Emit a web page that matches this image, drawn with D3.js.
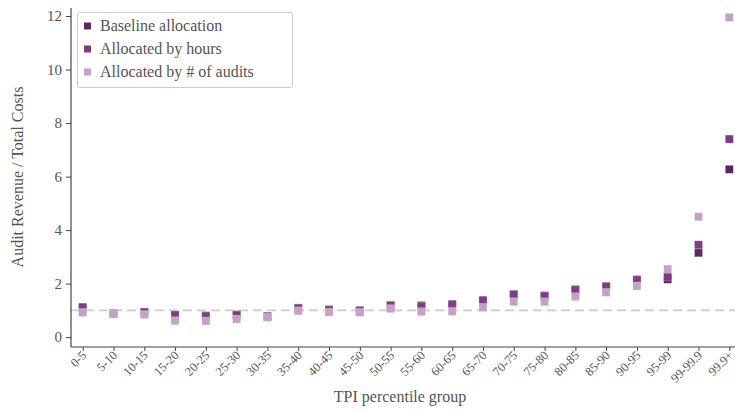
<!DOCTYPE html>
<html><head><meta charset="utf-8">
<script src="https://cdn.jsdelivr.net/npm/d3@7"></script>
<style>
body{margin:0;background:#fff;}
svg text{font-family:"Liberation Serif","DejaVu Serif",serif;}
</style></head>
<body><svg id="c" width="735" height="412"></svg>
<script>
const categories = ["0-5","5-10","10-15","15-20","20-25","25-30","30-35","35-40","40-45","45-50","50-55","55-60","60-65","65-70","70-75","75-80","80-85","85-90","90-95","95-99","99-99.9","99.9+"];
const baseline = [1.09,0.88,0.94,0.83,0.80,0.84,0.78,1.09,1.03,1.00,1.19,1.18,1.23,1.38,1.60,1.55,1.78,1.90,2.15,2.16,3.15,6.27];
const hours    = [1.12,0.88,0.93,0.82,0.77,0.82,0.77,1.07,1.01,0.98,1.17,1.15,1.21,1.36,1.58,1.53,1.76,1.88,2.13,2.25,3.45,7.40];
const audits   = [0.92,0.86,0.84,0.61,0.60,0.67,0.74,0.98,0.93,0.92,1.06,0.95,0.96,1.11,1.32,1.32,1.51,1.67,1.91,2.54,4.50,11.95];
const yTicks = [0,2,4,6,8,10,12];
const seriesNames = ["Baseline allocation","Allocated by hours","Allocated by # of audits"];
const colors = ["#5a2c5c","#7e3d81","#c4a2c6"];

const svg = d3.select("#c");
const L=71, R=741, T=8, B=347;
const x = d3.scaleLinear().domain([-0.38,21.38]).range([L,R]);
const y = d3.scaleLinear().domain([-0.37,12.3]).range([B,T]);

// reference line
svg.append("line").attr("x1",L).attr("x2",735).attr("y1",y(1)).attr("y2",y(1))
  .attr("stroke","#cccccc").attr("stroke-width",1.6).attr("stroke-dasharray","9,5");

// points
const all=[baseline,hours,audits];
all.forEach((s,k)=>{
  svg.append("g").selectAll("rect").data(s).join("rect")
    .attr("x",(d,i)=>x(i)-4).attr("y",d=>y(d)-4).attr("width",8).attr("height",8)
    .attr("fill",colors[k]).attr("stroke","#fff").attr("stroke-opacity",0.35).attr("stroke-width",0.6);
});

// axes
const ya = svg.append("g").attr("transform",`translate(${L},0)`)
  .call(d3.axisLeft(y).tickValues(yTicks).tickSize(5).tickPadding(4));
ya.select(".domain").attr("d",`M0,${T}V${B}`).attr("stroke","#444").attr("stroke-width",1.2);
ya.selectAll(".tick line").attr("stroke","#444");
ya.selectAll(".tick text").attr("font-size",15).attr("fill","#555").style("font-family","Liberation Serif, serif");

const xa = svg.append("g").attr("transform",`translate(0,${B})`)
  .call(d3.axisBottom(x).tickValues(d3.range(categories.length)).tickFormat(i=>categories[i]).tickSize(4));
xa.select(".domain").attr("d",`M${L},0H735`).attr("stroke","#444").attr("stroke-width",1.2);
xa.selectAll(".tick line").attr("stroke","#444");
xa.selectAll(".tick text").attr("font-size",12.5).attr("fill","#555")
  .attr("text-anchor","end").attr("dy",null).attr("y",null)
  .attr("transform","translate(4,9) rotate(-45)").style("font-family","Liberation Serif, serif");

// axis titles
svg.append("text").attr("x",400).attr("y",402).attr("text-anchor","middle")
  .attr("font-size",16).attr("fill","#555").text("TPI percentile group");
svg.append("text").attr("transform","translate(23,177) rotate(-90)").attr("text-anchor","middle")
  .attr("font-size",16).attr("fill","#555").text("Audit Revenue / Total Costs");

// legend
const lg = svg.append("g");
lg.append("rect").attr("x",77.5).attr("y",12.5).attr("width",215).attr("height",75).attr("rx",2)
  .attr("fill","#fff").attr("fill-opacity",0.85).attr("stroke","#cccccc");
seriesNames.forEach((n,k)=>{
  const cy = 26 + k*23;
  lg.append("rect").attr("x",84).attr("y",cy-3.5).attr("width",7).attr("height",7).attr("fill",colors[k]);
  lg.append("text").attr("x",100).attr("y",cy+5).attr("font-size",16).attr("fill","#555").text(n);
});
</script></body></html>
